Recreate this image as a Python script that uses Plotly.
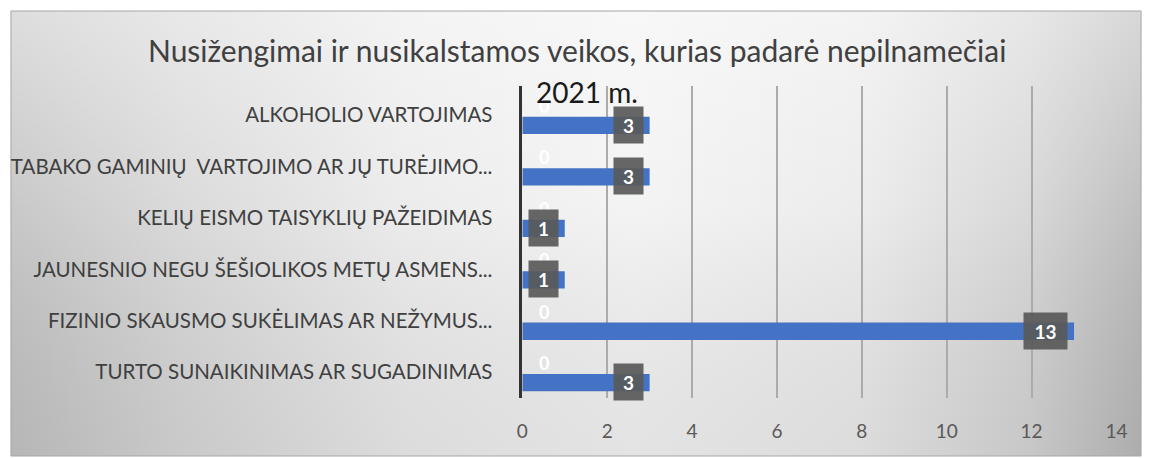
import base64
import plotly.graph_objects as go

# ---- data ----
categories = [
    "ALKOHOLIO VARTOJIMAS",
    "TABAKO GAMINIŲ  VARTOJIMO AR JŲ TURĖJIMO...",
    "KELIŲ EISMO TAISYKLIŲ PAŽEIDIMAS",
    "JAUNESNIO NEGU ŠEŠIOLIKOS METŲ ASMENS...",
    "FIZINIO SKAUSMO SUKĖLIMAS AR NEŽYMUS...",
    "TURTO SUNAIKINIMAS AR SUGADINIMAS",
]
values_other = [0, 0, 0, 0, 0, 0]
values_2021 = [3, 3, 1, 1, 13, 3]
x_ticks = [0, 2, 4, 6, 8, 10, 12, 14]
title_text = "Nusižengimai ir nusikalstamos veikos, kurias padarė nepilnamečiai"
subtitle_text = "2021 m."

W, H = 1158, 458
FONT = "Lato, 'Open Sans', sans-serif"
BLUE = "#4472C4"


def fx(p):
    return p / W


def fy(p):
    return 1 - p / H


fig = go.Figure()
fig.add_trace(go.Bar(y=categories, x=values_other, orientation="h",
                     marker=dict(color=BLUE), hoverinfo="skip"))
fig.add_trace(go.Bar(y=categories, x=values_2021, orientation="h",
                     marker=dict(color=BLUE, line=dict(width=0)), hoverinfo="skip"))

annotations = []
# white "0" labels of the empty series
for c, v in zip(categories, values_other):
    annotations.append(dict(x=v, y=c, xref="x", yref="y", text=str(v), showarrow=False,
                            xanchor="center", yanchor="middle", xshift=22, yshift=9,
                            font=dict(family=FONT, size=18, color="white", weight="bold")))
# gray value boxes
for c, v in zip(categories, values_2021):
    t = str(v)
    annotations.append(dict(x=v, y=c, xref="x", yref="y", text=t, showarrow=False,
                            xanchor="right", yanchor="middle", xshift=-6, yshift=-10,
                            width=15 + 14 * len(t), height=36, align="center", valign="middle",
                            bgcolor="rgba(89,89,89,0.92)", borderpad=0,
                            font=dict(family=FONT, size=19, color="white", weight="bold")))
# titles
annotations.append(dict(x=fx(580), y=fy(50), xref="paper", yref="paper", text=title_text,
                        showarrow=False, xanchor="center", yanchor="middle",
                        font=dict(family=FONT, size=30, color="#404040")))
annotations.append(dict(x=fx(536), y=fy(92), xref="paper", yref="paper", text=subtitle_text,
                        showarrow=False, xanchor="left", yanchor="middle",
                        font=dict(family=FONT, size=28, color="#1a1a1a")))

# gradient background of the chart box
svg = (
    '<svg xmlns="http://www.w3.org/2000/svg" width="1000" height="100" viewBox="0 0 1000 100" '
    'preserveAspectRatio="none"><defs>'
    '<linearGradient id="g" x1="0" y1="0" x2="1" y2="0">'
    '<stop offset="0" stop-color="#c2c2c2"/><stop offset="0.15" stop-color="#d6d6d6"/>'
    '<stop offset="0.35" stop-color="#eaeaea"/><stop offset="0.55" stop-color="#f2f2f2"/>'
    '<stop offset="0.75" stop-color="#eaeaea"/><stop offset="0.9" stop-color="#d4d4d4"/>'
    '<stop offset="1" stop-color="#b8b8b8"/></linearGradient>'
    '<linearGradient id="v" x1="0" y1="0" x2="0" y2="1">'
    '<stop offset="0" stop-color="#ffffff" stop-opacity="0.45"/>'
    '<stop offset="0.45" stop-color="#ffffff" stop-opacity="0.1"/>'
    '<stop offset="1" stop-color="#000000" stop-opacity="0.06"/></linearGradient></defs>'
    '<rect width="1000" height="100" fill="url(#g)"/>'
    '<rect width="1000" height="100" fill="url(#v)"/></svg>'
)
src = "data:image/svg+xml;base64," + base64.b64encode(svg.encode()).decode()

fig.update_layout(
    width=W, height=H, autosize=False,
    margin=dict(l=0, r=0, t=0, b=0),
    paper_bgcolor="white", plot_bgcolor="rgba(0,0,0,0)",
    showlegend=False,
    barmode="group", bargap=0.19, bargroupgap=0.17,
    annotations=annotations,
    images=[dict(source=src, xref="paper", yref="paper", x=fx(5), y=fy(11),
                 sizex=(1152 - 5) / W, sizey=(456 - 11) / H, xanchor="left", yanchor="top",
                 sizing="stretch", layer="below")],
    shapes=[dict(type="rect", xref="paper", yref="paper", x0=fx(5), x1=fx(1152),
                 y0=fy(456), y1=fy(11), line=dict(color="#a6a6a6", width=1), layer="below")],
    xaxis=dict(domain=[fx(524), fx(1127)], range=[0, 14], tickvals=x_ticks,
               showgrid=True, gridcolor="#ababab", gridwidth=1.5, zeroline=False,
               showline=False, ticks="", ticklabelstandoff=20,
               tickfont=dict(family=FONT, size=19, color="#595959")),
    yaxis=dict(domain=[fy(398), fy(86)], autorange="reversed", type="category",
               showgrid=False, zeroline=False, showline=True, linecolor="#333333",
               linewidth=2.5, ticks="", ticklabelstandoff=23,
               tickfont=dict(family=FONT, size=20.5, color="#404040")),
)

page_fix = (
    "document.documentElement.style.margin='0';"
    "document.documentElement.style.padding='0';"
    "document.documentElement.style.overflow='hidden';"
    "document.body.style.margin='0';"
    "document.body.style.padding='0';"
    "document.body.style.overflow='hidden';"
)

fig.write_html("out.html", config={"displayModeBar": False, "responsive": False},
               post_script=page_fix)
